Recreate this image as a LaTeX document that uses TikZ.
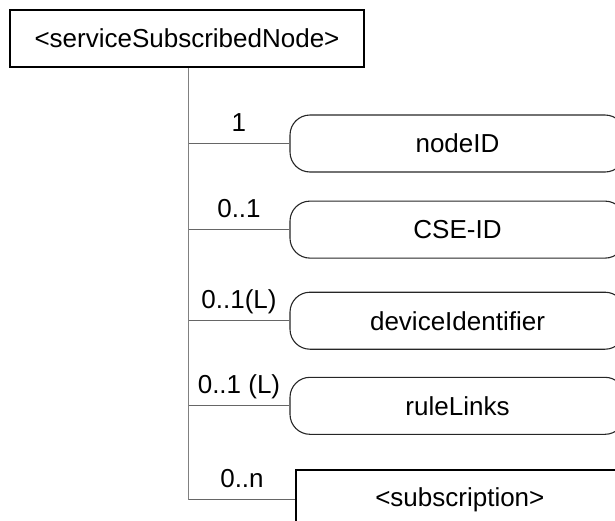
\documentclass[tikz,border=0pt]{standalone}
\usepackage{fontspec}
\setmainfont{Liberation Sans}
\usetikzlibrary{positioning}

\begin{document}
\begin{tikzpicture}[node distance=14pt, every node/.style={font=\fontsize{13pt}{15.5pt}\selectfont}]
\tikzstyle{res}=[rectangle, draw=black, line width=0.9pt, minimum height=28.5pt, inner sep=0pt]
\tikzstyle{attr}=[rectangle, rounded corners=10pt, draw=black!85, line width=0.55pt, minimum width=167.5pt, minimum height=28.5pt, inner sep=0pt]
\tikzstyle{branch}=[draw=black!60, line width=0.6pt]
\tikzstyle{mult}=[anchor=base, yshift=6pt, inner sep=0pt]
\useasboundingbox (0,0) rectangle (307.5pt,-260pt);
\clip (0,0) rectangle (307.5pt,-260pt);
\node[res, minimum width=177pt] (ssnode) at (93.5pt,-19.25pt) {<serviceSubscribedNode>};
\node[attr] (nodeid) at (228.75pt,-71.75pt) {nodeID};
\node[attr, below=14pt of nodeid] (cseid) {CSE-ID};
\node[attr, below=16.5pt of cseid] (devid) {deviceIdentifier};
\node[attr, below=13.5pt of devid] (rulelinks) {ruleLinks};
\node[res, minimum width=163.5pt, minimum height=30pt, below=17pt of rulelinks.south west, anchor=north west, xshift=3pt] (subscr) {<subscription>};
% tree lines
\draw[branch, draw=black!50] ([xshift=0.75pt]ssnode.south) -- ([xshift=0.75pt]ssnode.south |- subscr.west);
\draw[branch] ([xshift=0.75pt]ssnode.south |- nodeid.west) -- node[mult]{1} (nodeid.west);
\draw[branch] ([xshift=0.75pt]ssnode.south |- cseid.west) -- node[mult]{0..1} (cseid.west);
\draw[branch] ([xshift=0.75pt]ssnode.south |- devid.west) -- node[mult]{0..1(L)} (devid.west);
\draw[branch] ([xshift=0.75pt]ssnode.south |- rulelinks.west) -- node[mult]{0..1 (L)} (rulelinks.west);
\draw[branch] ([xshift=0.75pt]ssnode.south |- subscr.west) -- node[mult]{0..n} (subscr.west);
\end{tikzpicture}
\end{document}
